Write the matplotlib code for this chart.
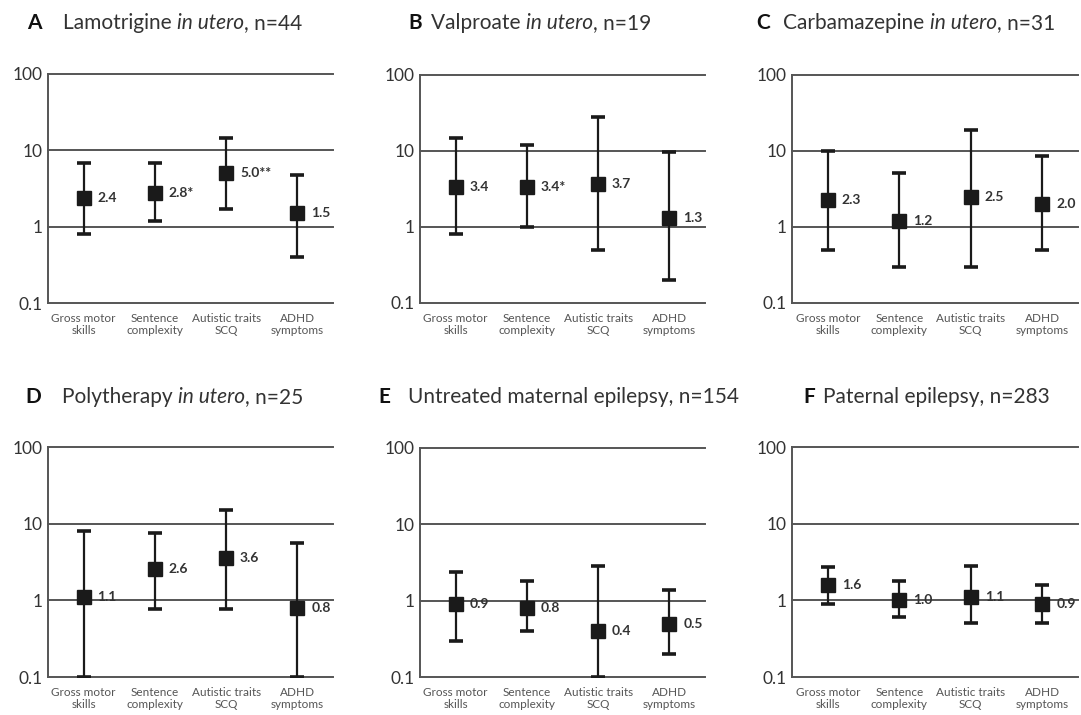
import matplotlib
matplotlib.use("Agg")
import matplotlib.pyplot as plt

plt.rcParams["font.family"] = ["Lato", "DejaVu Sans"]

# ---- data (odds ratio + 95% CI, log scale) ----
OUTCOMES = ["Gross motor\nskills", "Sentence\ncomplexity", "Autistic traits\nSCQ", "ADHD\nsymptoms"]

lam_or = [2.4, 2.8, 5.0, 1.5]
lam_lo = [0.8, 1.2, 1.7, 0.4]
lam_hi = [6.9, 6.9, 14.3, 4.7]
lam_sig = ["", "*", "**", ""]

val_or = [3.4, 3.4, 3.7, 1.3]
val_lo = [0.8, 1.0, 0.5, 0.2]
val_hi = [14.9, 12.1, 27.7, 9.7]
val_sig = ["", "*", "", ""]

cbz_or = [2.3, 1.2, 2.5, 2.0]
cbz_lo = [0.5, 0.3, 0.3, 0.5]
cbz_hi = [10.0, 5.1, 18.9, 8.5]
cbz_sig = ["", "", "", ""]

poly_or = [1.1, 2.6, 3.6, 0.8]
poly_lo = [0.1, 0.76, 0.76, 0.1]
poly_hi = [8.1, 7.5, 15.0, 5.6]
poly_sig = ["", "", "", ""]

unt_or = [0.9, 0.8, 0.4, 0.5]
unt_lo = [0.3, 0.4, 0.1, 0.2]
unt_hi = [2.4, 1.8, 2.85, 1.4]
unt_sig = ["", "", "", ""]

pat_or = [1.6, 1.0, 1.1, 0.9]
pat_lo = [0.9, 0.6, 0.5, 0.5]
pat_hi = [2.7, 1.8, 2.8, 1.6]
pat_sig = ["", "", "", ""]

LETTERS = ["A", "B", "C", "D", "E", "F"]
NAMES = ["Lamotrigine", "Valproate", "Carbamazepine", "Polytherapy",
         "Untreated maternal epilepsy", "Paternal epilepsy"]
IN_UTERO = [True, True, True, True, False, False]
NS = [44, 19, 31, 25, 154, 283]

YTICKS = [0.1, 1, 10, 100]
YTICKLABELS = ["0.1", "1", "10", "100"]

SERIES = [
    (lam_or, lam_lo, lam_hi, lam_sig),
    (val_or, val_lo, val_hi, val_sig),
    (cbz_or, cbz_lo, cbz_hi, cbz_sig),
    (poly_or, poly_lo, poly_hi, poly_sig),
    (unt_or, unt_lo, unt_hi, unt_sig),
    (pat_or, pat_lo, pat_hi, pat_sig),
]

W, H = 1081, 715
fig = plt.figure(figsize=(W / 100, H / 100), dpi=100)

# axes boxes in pixels: left, top, right, bottom
BOXES = [(48, 74, 333, 303), (420, 75, 705, 303), (792, 75, 1078, 303),
         (48, 447, 333, 677), (420, 448, 705, 677), (792, 447, 1078, 677)]
# title anchors in pixels: letter x, text x, y
TITLE_POS = [(27, 63, 23), (408, 431, 23), (756, 783, 23),
             (25, 62, 397), (378, 408, 397), (803, 823, 397)]

LINE_C = "#555555"
MARK_C = "#1a1a1a"
TEXT_C = "#333333"
TITLE_FS = 15

for i, (or_, lo, hi, sig) in enumerate(SERIES):
    l, t, r, b = BOXES[i]
    ax = fig.add_axes([l / W, 1 - b / H, (r - l) / W, (b - t) / H])
    ax.set_yscale("log")
    ax.set_ylim(0.1, 100)
    ax.set_xlim(0, 4)
    x = [k + 0.5 for k in range(len(or_))]

    for yv in (1, 10, 100):
        ax.axhline(yv, color=LINE_C, lw=1.4, zorder=1, clip_on=False)

    yerr = [[o - a for o, a in zip(or_, lo)], [c - o for o, c in zip(or_, hi)]]
    ax.errorbar(x, or_, yerr=yerr, fmt="s", color=MARK_C, ms=10, elinewidth=1.6,
                capsize=5, capthick=2.6, zorder=3)

    for xi, o, s in zip(x, or_, sig):
        ax.annotate(f"{o:.1f}{s}", (xi, o), xytext=(10, 0), textcoords="offset points",
                    ha="left", va="center", fontsize=10, color=TEXT_C, fontweight="bold",
                    zorder=4)

    ax.spines["top"].set_visible(False)
    ax.spines["right"].set_visible(False)
    for sp in ("left", "bottom"):
        ax.spines[sp].set_color(LINE_C)
        ax.spines[sp].set_linewidth(1.4)

    ax.set_yticks(YTICKS)
    ax.set_yticklabels(YTICKLABELS, fontsize=12.5, color=TEXT_C)
    ax.minorticks_off()
    ax.tick_params(axis="y", length=0, pad=4)
    ax.set_xticks(x)
    ax.set_xticklabels(OUTCOMES, fontsize=8.5, color="#555555", linespacing=1.1)
    ax.tick_params(axis="x", length=0, pad=7)

    lx, tx, ty = TITLE_POS[i]
    fig.text(lx / W, 1 - ty / H, LETTERS[i], fontsize=TITLE_FS, fontweight="bold",
             color="#111111", va="center", ha="left")
    if IN_UTERO[i]:
        t1 = fig.text(tx / W, 1 - ty / H, NAMES[i] + " ", fontsize=TITLE_FS, color=TEXT_C,
                      va="center", ha="left")
        fig.canvas.draw()
        bb = t1.get_window_extent()
        t2 = fig.text(bb.x1 / W, 1 - ty / H, "in utero", fontsize=TITLE_FS, style="italic",
                      color=TEXT_C, va="center", ha="left")
        fig.canvas.draw()
        bb = t2.get_window_extent()
        fig.text(bb.x1 / W, 1 - ty / H, f", n={NS[i]}", fontsize=TITLE_FS, color=TEXT_C,
                 va="center", ha="left")
    else:
        fig.text(tx / W, 1 - ty / H, f"{NAMES[i]}, n={NS[i]}", fontsize=TITLE_FS,
                 color=TEXT_C, va="center", ha="left")

fig.savefig("out.png", dpi=100, facecolor="white")
